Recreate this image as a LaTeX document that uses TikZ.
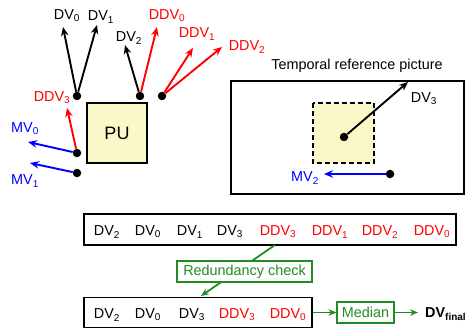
\documentclass[tikz,border=0pt]{standalone}
\usepackage{fontspec}
\setmainfont{Liberation Sans}
\usetikzlibrary{arrows.meta}

\definecolor{puyellow}{RGB}{250,248,200}
\definecolor{ddvred}{RGB}{255,0,0}
\definecolor{mvblue}{RGB}{0,0,255}
\definecolor{chkgreen}{RGB}{34,139,34}

\newcommand{\vsub}[2]{#1\textsubscript{#2}}

\begin{document}
\begin{tikzpicture}[x=1pt,y=-1pt,
    font=\fontsize{14.4}{17}\selectfont,
    vec/.style={-{Stealth[length=9pt,width=7.5pt]}, line width=1.9pt},
    gvec/.style={chkgreen, line width=1.8pt, -{Stealth[length=8pt,width=6.5pt]}},
    dot/.style={circle, fill, inner sep=0pt, minimum size=8.5pt},
    lab/.style={inner sep=0pt},
    listbox/.style={draw, line width=1.3pt, minimum height=31pt, inner sep=0pt},
    greenbox/.style={draw=chkgreen, text=chkgreen, fill=white, line width=1.1pt, inner sep=0pt}]
    \useasboundingbox (0,0) rectangle (472,331);

    % blocco corrente
    \node[draw, line width=2pt, fill=puyellow, minimum width=60pt, minimum height=60pt,
          inner sep=0pt] (pu) at (117,133) {\fontsize{18}{20}\selectfont PU};

    % punti del blocco
    \node[dot] (tl) at (77,96) {};
    \node[dot] (tm) at (140,96) {};
    \node[dot] (tr) at (162,96) {};
    \node[dot] (ml) at (77,153) {};
    \node[dot] (bl) at (77,173) {};

    % vettori vicini
    \coordinate (dv0) at (63,27);
    \coordinate (dv1) at (97,25);
    \coordinate (dv2) at (125,45);
    \coordinate (ddv0) at (157,27);
    \coordinate (ddv1) at (193,48);
    \coordinate (ddv2) at (222,47);
    \coordinate (ddv3) at (67,108);
    \coordinate (mv0) at (28,142);
    \coordinate (mv1) at (30,163);

    \draw[vec] (tl) -- (dv0);
    \draw[vec] (tl) -- (dv1);
    \draw[vec] (tm) -- (dv2);
    \draw[vec,ddvred] (tm) -- (ddv0);
    \draw[vec,ddvred] (tr) -- (ddv1);
    \draw[vec,ddvred] (tr) -- (ddv2);
    \draw[vec,ddvred] (ml) -- (ddv3);
    \draw[vec,mvblue] (ml) -- (mv0);
    \draw[vec,mvblue] (bl) -- (mv1);

    % etichette
    \node[lab] (ldv0) at (67,16) {\vsub{DV}{0}};
    \node[lab] (ldv1) at (101,17) {\vsub{DV}{1}};
    \node[lab] (ldv2) at (129,38) {\vsub{DV}{2}};
    \node[lab,ddvred] (lddv0) at (167,16) {\vsub{DDV}{0}};
    \node[lab,ddvred] (lddv1) at (197,34) {\vsub{DDV}{1}};
    \node[lab,ddvred] (lddv2) at (247,47) {\vsub{DDV}{2}};
    \node[lab,ddvred] (lddv3) at (52,98) {\vsub{DDV}{3}};
    \node[lab,mvblue] (lmv0) at (25,129) {\vsub{MV}{0}};
    \node[lab,mvblue] (lmv1) at (25,181) {\vsub{MV}{1}};

    % immagine di riferimento
    \node (title) at (357,66) {Temporal reference picture};
    \draw[line width=2pt] (231,81) rectangle (464,194);
    \draw[line width=2pt, dashed, dash pattern=on 5pt off 3pt, fill=puyellow] (313,103) rectangle (374,163);

    \node[dot] (col) at (344,137) {};
    \node[dot] (ref) at (390,174) {};
    \coordinate (dv3) at (408,82);
    \coordinate (mv2) at (324,174);
    \draw[vec] (col) -- (dv3);
    \draw[vec,mvblue] (ref) -- (mv2);
    \node[lab] (ldv3) at (424,99) {\vsub{DV}{3}};
    \node[lab,mvblue] (lmv2) at (305,178) {\vsub{MV}{2}};

    % lista completa
    \node[listbox, minimum width=372pt] (all) at (270,229.5) {};
    \foreach \x/\t/\i/\c in {107/DV/2/black, 148/DV/0/black, 190/DV/1/black, 230/DV/3/black,
                             278/DDV/3/ddvred, 330/DDV/1/ddvred, 380/DDV/2/ddvred, 432/DDV/0/ddvred}
        \node[lab,\c] at (\x,232) {\vsub{\t}{\i}};

    % lista ridotta
    \node[listbox, minimum width=228pt, minimum height=30pt] (red) at (198,312.5) {};
    \foreach \x/\t/\i/\c in {107/DV/2/black, 148/DV/0/black, 192/DV/3/black,
                             237/DDV/3/ddvred, 288/DDV/0/ddvred}
        \node[lab,\c] at (\x,315) {\vsub{\t}{\i}};

    % controllo ridondanza
    \coordinate (chka) at (275,245);
    \coordinate (chkb) at (201,296);
    \draw[gvec] (chka) -- (chkb);
    \node[greenbox, minimum width=135pt, minimum height=21pt] (chk) at (244.5,271.5) {Redundancy check};

    % mediana
    \node[greenbox, minimum width=57pt, minimum height=21pt] (med) at (365.5,312.5) {Median};
    \node[inner sep=0pt, anchor=west] (fin) at (425,314) {\textbf{\vsub{DV}{final}}};
    \draw[gvec] (red) -- (med);
    \draw[gvec, shorten >=7pt] (med) -- (med -| fin.west);
\end{tikzpicture}
\end{document}
